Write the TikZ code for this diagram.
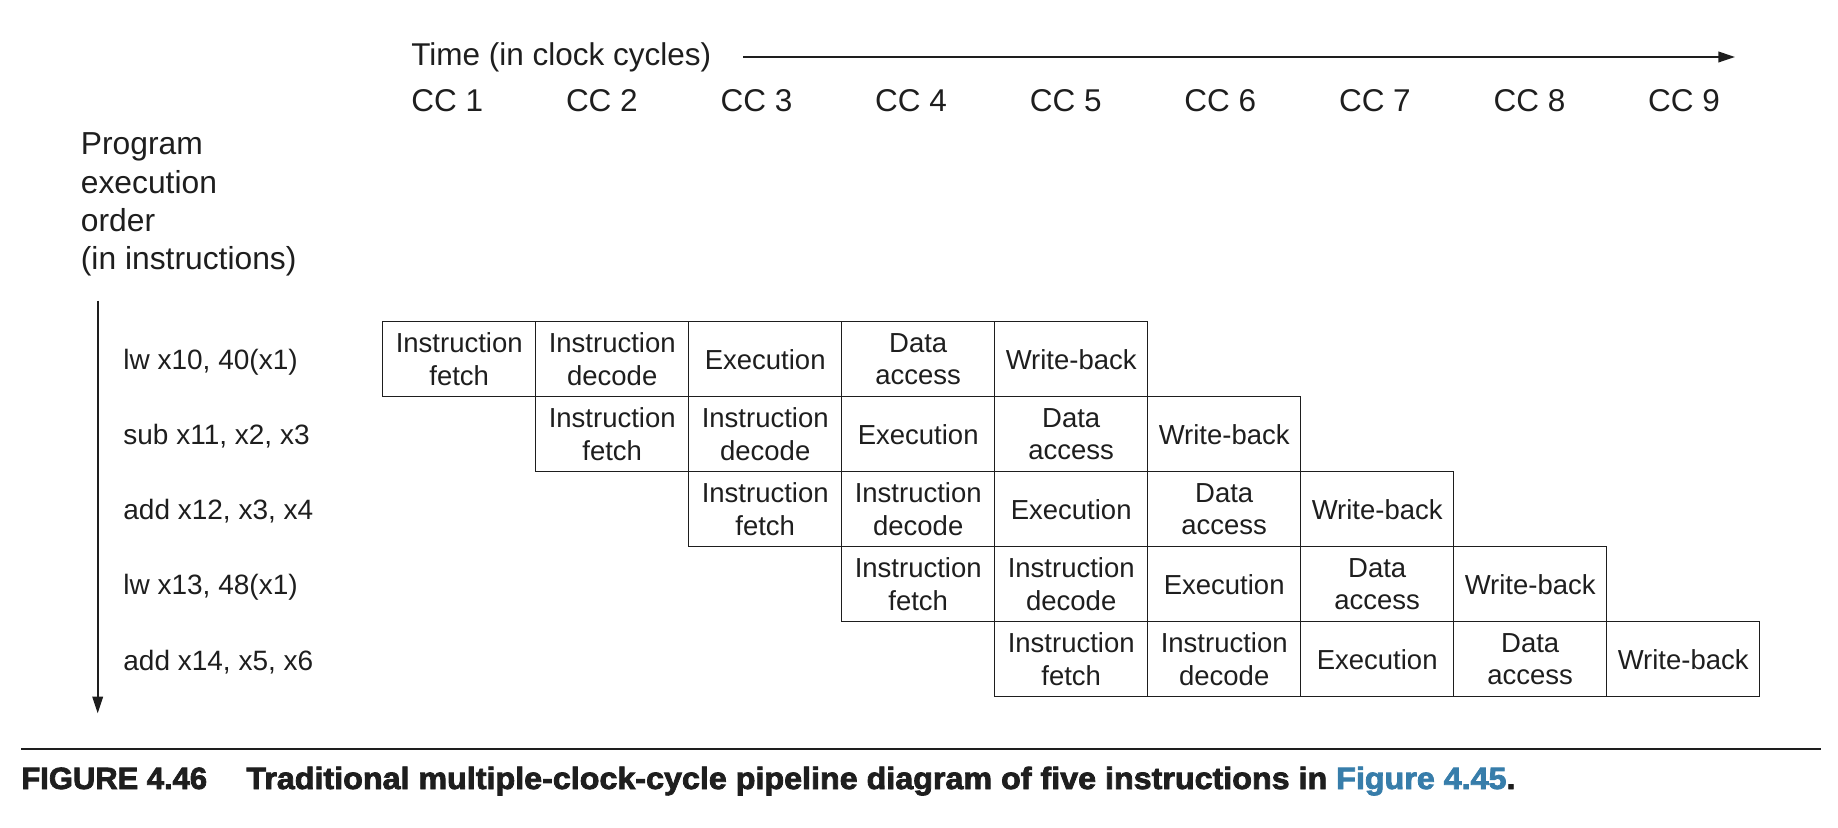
\documentclass[tikz,border=0pt]{standalone}
\usepackage{fontspec}
\setmainfont{Liberation Sans}
\newfontfamily\capfont{Liberation Sans}[BoldFeatures={FakeBold=2.5}]
\usetikzlibrary{arrows.meta}
\definecolor{figblue}{RGB}{55,125,170}
\definecolor{ink}{RGB}{30,30,30}
\begin{document}
\begin{tikzpicture}[x=0.5pt,y=-0.5pt,
  cell/.style={draw=ink,line width=0.7pt,minimum width=76.5pt,minimum height=37.5pt,inner sep=0pt,align=center,
     font=\fontsize{13.75pt}{16.35pt}\selectfont,text=ink},
  toplab/.style={anchor=base west,inner sep=0pt,font=\fontsize{15.75pt}{19pt}\selectfont,text=ink},
  headlab/.style={anchor=base west,inner sep=0pt,font=\fontsize{15.9pt}{19pt}\selectfont,text=ink},
  instlab/.style={anchor=base west,inner sep=0pt,font=\fontsize{14pt}{17pt}\selectfont,text=ink},
  axisarrow/.style={draw=ink,line width=0.85pt,-{Triangle[length=8.3pt,width=5.3pt]}},
  caplab/.style={anchor=base west,inner sep=0pt,font=\capfont\bfseries\fontsize{15.36pt}{18pt}\selectfont,text=ink}]
\useasboundingbox (0,0) rectangle (1838,828);

% time axis
\node[toplab] (time) at (411,65.7) {Time (in clock cycles)};
\coordinate (tstart) at (743,57);
\coordinate (tend) at (1735,57);
\draw[axisarrow] (tstart) -- (tend);
\foreach \k in {1,...,9}{
  \node[toplab] (cc\k) at ({411+154.6*(\k-1)},112) {CC \k};
}

% program order heading
\node[headlab] (h1) at (80.5,155) {Program};
\node[headlab] (h2) at (80.5,193.3) {execution};
\node[headlab] (h3) at (80.5,231.6) {order};
\node[headlab] (h4) at (80.5,269.9) {(in instructions)};

\coordinate (vtop) at (97.7,300.7);
\coordinate (vbot) at (97.7,713.3);
\draw[axisarrow] (vtop) -- (vbot);

% instruction labels
\foreach \ins [count=\r from 0] in {{lw x10, 40(x1)},{sub x11, x2, x3},{add x12, x3, x4},{lw x13, 48(x1)},{add x14, x5, x6}}{
  \node[instlab] (ins\r) at (123,{370+75*\r}) {\ins};
}

% pipeline cells
\foreach \r in {0,...,4}{
  \foreach \lab [count=\s from 0] in {{Instruction\\fetch},{Instruction\\decode},{Execution},{Data\\access},{Write-back}}{
    \node[cell] (c\r\s) at ({459.2+153*(\r+\s)},{359.2+75*\r}) {\lab};
  }
}

% rule and caption
\coordinate (rl) at (21,749);
\coordinate (rr) at (1821,749);
\draw[ink,line width=1pt] (rl) -- (rr);
\node[caplab] (fig) at (21,789) {\resizebox{92.85pt}{\height}{FIGURE 4.46}};
\node[caplab] (captext) at (246,789) {\resizebox{634.5pt}{\height}{Traditional multiple-clock-cycle pipeline diagram of five instructions in \textcolor{figblue}{Figure 4.45}.}};
\end{tikzpicture}
\end{document}
